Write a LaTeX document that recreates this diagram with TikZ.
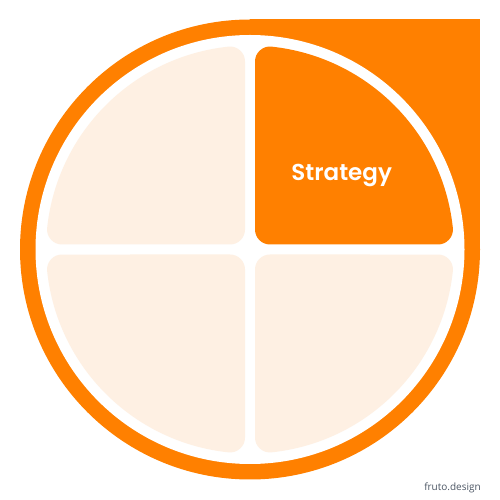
\documentclass[tikz,border=0pt]{standalone}
\usepackage{fontspec}
\setmainfont{Poppins}[BoldFont={* SemiBold}]
\newfontfamily\credfont{Open Sans}
\definecolor{fruto}{HTML}{FF8000}
\definecolor{peach}{HTML}{FEF0E3}
\definecolor{credgray}{HTML}{4B5563}
\tikzset{
  piece/.style={line width=30pt, line join=round},
}
\def\piecepath{(20pt,20pt) -- (20pt,187.94pt) arc[start angle=83.925, end angle=6.075, radius=189pt] -- cycle}
\begin{document}
\begin{tikzpicture}[x=1pt,y=1pt]
\useasboundingbox (0,0) rectangle (500,500);
\begin{scope}[shift={(250,250.5)}]
  % outer orange badge
  \fill[fruto] (0,0) circle[radius=230pt];
  \fill[fruto] (0,0) rectangle (230,230);
  % white disk
  \fill[white] (0,0) circle[radius=214.5pt];
  % quadrant pieces
  \filldraw[piece, fill=fruto, draw=fruto] \piecepath;
  \begin{scope}[xscale=-1]
    \filldraw[piece, fill=peach, draw=peach] \piecepath;
  \end{scope}
  \begin{scope}[yscale=-1]
    \filldraw[piece, fill=peach, draw=peach] \piecepath;
  \end{scope}
  \begin{scope}[xscale=-1,yscale=-1]
    \filldraw[piece, fill=peach, draw=peach] \piecepath;
  \end{scope}
\end{scope}
\node[anchor=base, text=white, font=\fontsize{23}{23}\selectfont\bfseries, inner sep=0pt] (strategy) at (341.7,319.5) {Strategy};
\node[text=credgray, font=\credfont\fontsize{10}{10}\selectfont, inner sep=0pt] (credit) at (452.5,12) {fruto.design};
\end{tikzpicture}
\end{document}
